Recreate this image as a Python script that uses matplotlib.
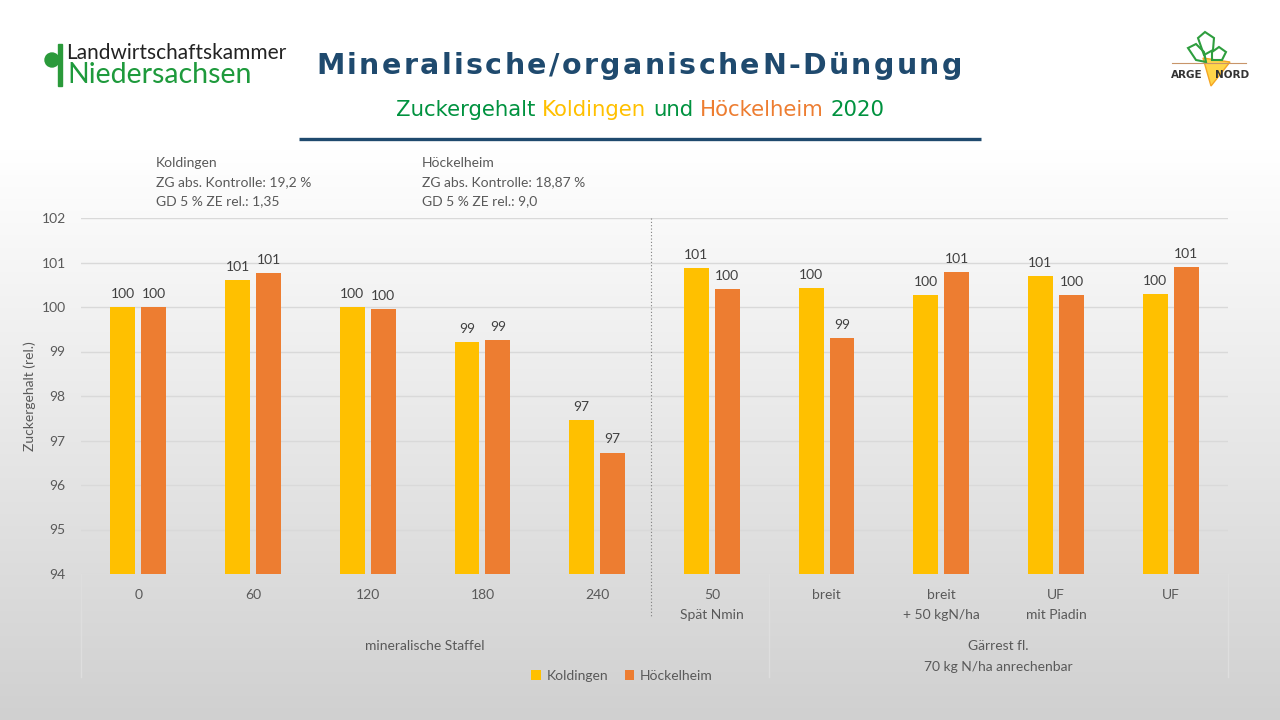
import numpy as np
import matplotlib
matplotlib.use('Agg')
import matplotlib.pyplot as plt
import matplotlib.transforms as mtransforms
from matplotlib.patches import Circle, Rectangle, Polygon

categories = ['0', '60', '120', '180', '240', '50\nSpät Nmin', 'breit',
              'breit\n+ 50 kgN/ha', 'UF\nmit Piadin', 'UF']
koldingen = [100.0, 100.61, 99.99, 99.21, 97.46, 100.88, 100.43, 100.27, 100.70, 100.29]
hoeckelheim = [100.0, 100.76, 99.96, 99.26, 96.73, 100.40, 99.31, 100.79, 100.27, 100.90]
groups = ['mineralische Staffel', 'Gärrest fl.\n70 kg N/ha anrechenbar']
group_spans = [(0, 5), (6, 9)]
series_names = ['Koldingen', 'Höckelheim']
yticks = list(range(94, 103))
notes = [['Koldingen', 'ZG abs. Kontrolle: 19,2 %', 'GD 5 % ZE rel.: 1,35'],
         ['Höckelheim', 'ZG abs. Kontrolle: 18,87 %', 'GD 5 % ZE rel.: 9,0']]
title = 'Mineralische/organischeN-Düngung'

YELLOW = '#FFC000'
ORANGE = '#ED7D31'
GREEN = '#00923F'
NAVY = '#1F4A6E'
GREY = '#595959'

plt.rcParams['font.family'] = ['Lato', 'DejaVu Sans']

fig = plt.figure(figsize=(12.8, 7.2), dpi=100)

# background gradient
bg = fig.add_axes([0, 0, 1, 1], zorder=-5)
rows = np.arange(720)
shade = np.clip(255 - (rows - 150) / 570 * 47, 208, 255) / 255
bg.imshow(np.dstack([shade, shade, shade]).reshape(720, 1, 3),
          extent=[0, 1, 0, 1], aspect='auto', interpolation='bilinear')
bg.axis('off')

# main chart
ax = fig.add_axes([81 / 1280, 1 - 574 / 720, (1228 - 81) / 1280, (574 - 218) / 720])
ax.set_facecolor('none')
x = np.arange(len(categories))
w = 0.217
off = 0.135
ax.bar(x - off, koldingen, w, color=YELLOW, label=series_names[0], zorder=3)
ax.bar(x + off, hoeckelheim, w, color=ORANGE, label=series_names[1], zorder=3)
for xs, vals in ((x - off, koldingen), (x + off, hoeckelheim)):
    for xi, v in zip(xs, vals):
        ax.annotate(f'{round(v)}', (xi, v), xytext=(0, 6.5), textcoords='offset points',
                    ha='center', va='baseline', fontsize=10, color='#404040')

ax.set_xlim(-0.5, len(categories) - 0.5)
ax.set_ylim(94, 102)
ax.set_yticks(yticks)
ax.set_xticks([])
ax.grid(axis='y', color='#D9D9D9', lw=1, zorder=0)
ax.set_axisbelow(True)
for s in ax.spines.values():
    s.set_visible(False)
ax.tick_params(axis='y', length=0, pad=11, labelsize=10, labelcolor=GREY)

tr = mtransforms.blended_transform_factory(ax.transData, fig.transFigure)
for xi, lab in zip(x, categories):
    for i, line in enumerate(lab.split('\n')):
        ax.text(xi, 1 - (595 + 20 * i) / 720, line, transform=tr, ha='center', va='center',
                fontsize=10, color=GREY)
for (a, b), lab in zip(group_spans, groups):
    for i, line in enumerate(lab.split('\n')):
        ax.text((a + b) / 2, 1 - (646 + 21 * i) / 720, line, transform=tr, ha='center',
                va='center', fontsize=10, color=GREY)
for xb in (-0.5, 5.5, 9.5):
    ax.plot([xb, xb], [1 - 574 / 720, 1 - 677 / 720], transform=tr, color='#DEDEDE',
            lw=1, clip_on=False)
ax.plot([4.47, 4.47], [1 - 218 / 720, 1 - 618 / 720], transform=tr, color='#808080',
        lw=0.8, ls=(0, (1, 2)), clip_on=False)

fig.text(30 / 1280, 1 - 396 / 720, 'Zuckergehalt (rel.)', rotation=90, ha='center',
         va='center', fontsize=10, color=GREY)

fig.legend(loc='center', bbox_to_anchor=(622 / 1280, 1 - 676 / 720), ncol=2, frameon=False,
           fontsize=10, handlelength=0.7, handleheight=0.7, handletextpad=0.4,
           columnspacing=1.2, labelcolor=GREY)

# decorations in pixel coordinates
deco = fig.add_axes([0, 0, 1, 1], zorder=4)
deco.set_xlim(0, 1280)
deco.set_ylim(720, 0)
deco.axis('off')
deco.set_facecolor('none')
r = fig.canvas.get_renderer()

for xn, block in zip((156, 422), notes):
    for i, line in enumerate(block):
        deco.text(xn, 163 + 19 * i, line, ha='left', va='center', fontsize=10, color=GREY)

# letter-spaced title
title_kw = dict(fontsize=20.5, fontweight='bold', family='DejaVu Sans')
cw = []
for ch in title:
    t = deco.text(0, 0, ch, **title_kw)
    cw.append(t.get_window_extent(r).width)
    t.remove()
gap = (646 - sum(cw)) / (len(title) - 1)
xp = 316
for ch, wd in zip(title, cw):
    deco.text(xp, 66, ch, ha='left', va='center', color=NAVY, **title_kw)
    xp += wd + gap
deco.plot([299, 981], [139, 139], color=NAVY, lw=2.4, solid_capstyle='butt')

sub_kw = dict(fontsize=15.3, family='DejaVu Sans')
parts = [('Zuckergehalt', GREEN), ('Koldingen', YELLOW), ('und', GREEN),
         ('Höckelheim', ORANGE), ('2020', GREEN)]
t = deco.text(0, 0, 'a b', **sub_kw)
wsp = t.get_window_extent(r).width
t.set_text('ab')
sp = wsp - t.get_window_extent(r).width
t.remove()
widths = []
for s, c in parts:
    t = deco.text(0, 0, s, **sub_kw)
    widths.append(t.get_window_extent(r).width)
    t.remove()
xp = 640 - (sum(widths) + sp * (len(parts) - 1)) / 2
for (s, c), wd in zip(parts, widths):
    deco.text(xp, 110, s, color=c, ha='left', va='center', **sub_kw)
    xp += wd + sp

# left logo
deco.add_patch(Circle((52, 60), 7, color='#2A9A3A'))
deco.add_patch(Rectangle((58, 44), 4, 42, color='#2A9A3A'))
deco.text(66, 53, 'Landwirtschaftskammer', ha='left', va='center', fontsize=15, color='#222222')
deco.text(67, 75, 'Niedersachsen', ha='left', va='center', fontsize=20.5, color='#1E9A3C')

# right logo
deco.plot([1172, 1246], [63, 63], color='#C8956A', lw=0.8)
deco.add_patch(Polygon([(1203, 58), (1230, 62), (1211, 86)], closed=True,
                       facecolor='#FFD54A', edgecolor='#F5A623', lw=1))
for pts in ([(1188, 48), (1196, 44), (1204, 52), (1206, 62), (1196, 60)],
            [(1198, 38), (1205, 32), (1214, 38), (1213, 50), (1204, 55)],
            [(1212, 52), (1219, 47), (1226, 52), (1222, 60), (1212, 60)]):
    deco.add_patch(Polygon(pts, closed=True, fill=False, edgecolor='#2E9E3E', lw=1.5))
deco.text(1187, 75, 'ARGE', ha='center', va='center', fontsize=7.5, fontweight='heavy',
          color='#333333', family='DejaVu Sans')
deco.text(1232, 75, 'NORD', ha='center', va='center', fontsize=7.5, fontweight='heavy',
          color='#333333', family='DejaVu Sans')

fig.savefig('out.png', dpi=100)
